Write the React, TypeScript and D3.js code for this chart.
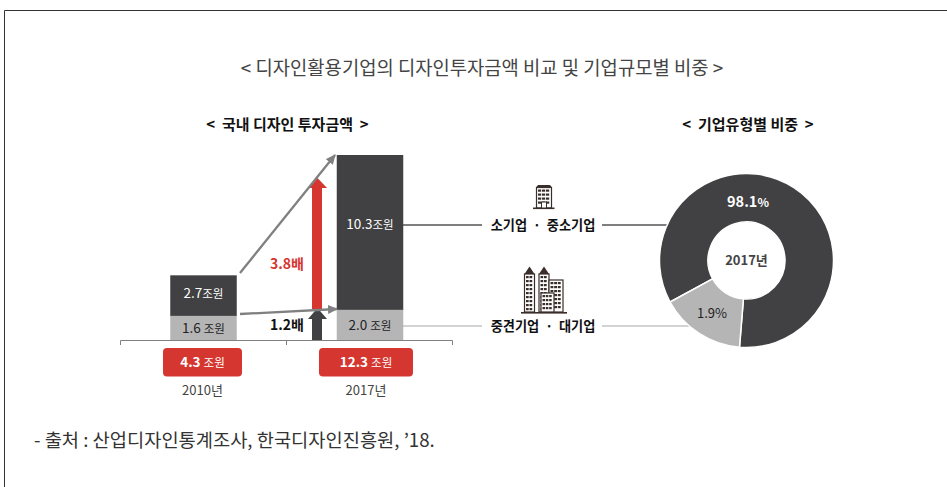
import * as d3 from "d3";

const FONT = "'Noto Sans CJK KR', 'Noto Sans', sans-serif";
const DARK = "#414042";
const LIGHT = "#b5b5b6";
const RED = "#d53630";
const GRAY = "#808080";
const ICON = "#3a2e2b";

const years = ["2010년", "2017년"];
const smallInvest = [2.7, 10.3];
const largeInvest = [1.6, 2.0];
const smallLabels = ["2.7", "10.3"];
const largeLabels = ["1.6", "2.0"];
const totalLabels = ["4.3", "12.3"];
// drawn slice sizes, the printed labels don't match the geometry
const donutDrawn = [84.2, 15.8];
const donutLabels = ["98.1", "1.9"];

const y = d3.scaleLinear().domain([0, 12.3]).range([340, 155]);
const x = d3.scalePoint<string>().domain(years).range([203.5, 370]);
const barW = 66.5;
const boxCenter = [202.5, 366];
const boxWidth = [79, 94];
const smallLabelY = [298, 229];

const pie = d3
  .pie<number>()
  .sort(null)
  .startAngle((241.5 * Math.PI) / 180)
  .endAngle(((241.5 + 360) * Math.PI) / 180);
const arc = d3.arc<d3.PieArcDatum<number>>().innerRadius(38.5).outerRadius(87);
const donut = pie(donutDrawn);
const cx = 746.5;
const cy = 260.5;

const Txt = ({ x, y, size = 12, fill = "#333", weight = 400, anchor = "middle", children }: any) => (
  <text x={x} y={y} fontSize={size} fill={fill} fontWeight={weight} textAnchor={anchor} fontFamily={FONT} style={{ whiteSpace: "pre" }}>
    {children}
  </text>
);

const Amount = ({ x, y, value, unit, fill, gap, weight = 400 }: any) => (
  <text x={x} y={y} fontSize={13.5} fill={fill} fontWeight={weight} textAnchor="middle" fontFamily={FONT}>
    {value}
    <tspan fontSize={11.5} fontWeight={400} dx={gap}>
      {unit}
    </tspan>
  </text>
);

const Tower = ({ x, y, w, h, cols = 3 }: any) => (
  <g>
    <rect x={x} y={y} width={w} height={h} fill="#fff" stroke={ICON} strokeWidth={1.2} />
    {d3.range(Math.floor((h - 2) / 4)).map((r) =>
      d3.range(cols).map((c) => (
        <rect key={r + "-" + c} x={x + 1.5 + (c * (w - 3)) / cols} y={y + 2 + r * 4} width={(w - 3) / cols - 0.8} height={2.2} fill={ICON} />
      )),
    )}
  </g>
);

const App = () => {
  return (
    <svg width={947} height={487} style={{ position: "absolute", left: 0, top: 0, background: "#fff" }}>
      <defs>
        <marker id="grayHead" markerUnits="userSpaceOnUse" markerWidth={10} markerHeight={10} refX={9} refY={5} orient="auto">
          <path d="M0,0.5L10,5L0,9.5Z" fill={GRAY} />
        </marker>
      </defs>
      <path d="M4.5,487V10.5H947" fill="none" stroke="#333" strokeWidth={1} />

      <Txt x={482} y={74.5} size={18.8} fill="#444">{"< 디자인활용기업의 디자인투자금액 비교 및 기업규모별 비중 >"}</Txt>
      <Txt x={287.5} y={129.5} size={15} fill="#111" weight={700}>{"<  국내 디자인 투자금액  >"}</Txt>
      <Txt x={748} y={129.5} size={15} fill="#111" weight={700}>{"<  기업유형별 비중  >"}</Txt>

      {years.map((yr, i) => {
        const cxBar = x(yr)!;
        const split = y(largeInvest[i]);
        const top = y(largeInvest[i] + smallInvest[i]);
        return (
          <g key={yr}>
            <rect x={cxBar - barW / 2} y={top} width={barW} height={split - top} fill={DARK} />
            <rect x={cxBar - barW / 2} y={split} width={barW} height={y(0) - split} fill={LIGHT} />
            <Amount x={cxBar} y={smallLabelY[i]} value={smallLabels[i]} unit="조원" fill="#fff" gap={0} />
            <Amount x={cxBar} y={(split + y(0)) / 2 + 5} value={largeLabels[i]} unit="조원" fill="#222" gap={3} />
            <rect x={boxCenter[i] - boxWidth[i] / 2} y={348} width={boxWidth[i]} height={28.5} rx={4} fill={RED} />
            <Amount x={boxCenter[i]} y={367} value={totalLabels[i]} unit="조원" fill="#fff" gap={3} weight={700} />
            <Txt x={boxCenter[i]} y={395} size={13} fill="#444">{yr}</Txt>
          </g>
        );
      })}

      <path d="M120.5,345V340.5H452.5V345M286.5,340.5V345" fill="none" stroke={GRAY} strokeWidth={1} />

      {/* growth arrows */}
      <path d="M312,340V319H308L317.5,308L327,319H322V340Z" fill={DARK} />
      <path d="M312,309V188H308L317.5,178L327,188H322V309Z" fill={RED} />
      <line x1={240} y1={273} x2={335} y2={155} stroke={GRAY} strokeWidth={2.3} markerEnd="url(#grayHead)" />
      <line x1={240} y1={314} x2={337} y2={309} stroke={GRAY} strokeWidth={2.3} markerEnd="url(#grayHead)" />
      <Txt x={287} y={269} size={14} fill={RED} weight={700}>3.8배</Txt>
      <Txt x={287} y={330} size={14} fill="#111" weight={700}>1.2배</Txt>

      {/* leader lines */}
      <line x1={403} y1={225} x2={482} y2={225} stroke="#555" strokeWidth={1.4} />
      <line x1={602} y1={225} x2={668} y2={225} stroke="#555" strokeWidth={1.4} />
      <line x1={403} y1={326} x2={482} y2={326} stroke="#a8a8a9" strokeWidth={1.2} />
      <line x1={602} y1={326} x2={690} y2={326} stroke="#a8a8a9" strokeWidth={1.2} />

      <Txt x={543} y={229.5} size={13.2} fill="#111" weight={700}>{"소기업  ·  중소기업"}</Txt>
      <Txt x={543} y={331} size={13.2} fill="#111" weight={700}>{"중견기업  ·  대기업"}</Txt>

      {/* building icons */}
      <g>
        <Tower x={536.5} y={187.5} w={15} h={20.5} />
        <path d="M536,187.5L538,185H550L552,187.5Z" fill={ICON} />
        <rect x={533} y={207.5} width={21.5} height={1.6} fill={ICON} />
        <rect x={541.5} y={202} width={5} height={6} fill="#fff" stroke={ICON} />
      </g>
      <g>
        <path d="M524.5,274L529.5,266.5L534.5,274Z" fill={ICON} />
        <path d="M539,274L544,266.5L549,274Z" fill={ICON} />
        <Tower x={524.5} y={274} w={10} h={38} cols={2} />
        <Tower x={539} y={274} w={10} h={38} cols={2} />
        <Tower x={549} y={280} w={14} h={32} />
        <Tower x={541} y={293} w={13} h={19} />
        <rect x={521} y={312} width={46} height={1.6} fill={ICON} />
      </g>

      {/* donut */}
      <g transform={`translate(${cx},${cy})`}>
        {donut.map((d, i) => (
          <path key={i} d={arc(d) ?? ""} fill={i === 0 ? DARK : LIGHT} stroke="#fff" strokeWidth={1.5} />
        ))}
      </g>
      <text x={748} y={207} fontSize={14.5} fontWeight={700} fill="#fff" textAnchor="middle" fontFamily={FONT}>
        {donutLabels[0]}
        <tspan fontSize={12}>%</tspan>
      </text>
      <Txt x={712} y={318} size={13} fill="#222">{donutLabels[1]}%</Txt>
      <Txt x={746.5} y={265} size={13} fill="#444" weight={700}>2017년</Txt>

      <Txt x={34} y={447} size={18.7} fill="#333" anchor="start">- 출처 : 산업디자인통계조사, 한국디자인진흥원, ’18.</Txt>
    </svg>
  );
};

export default App;
